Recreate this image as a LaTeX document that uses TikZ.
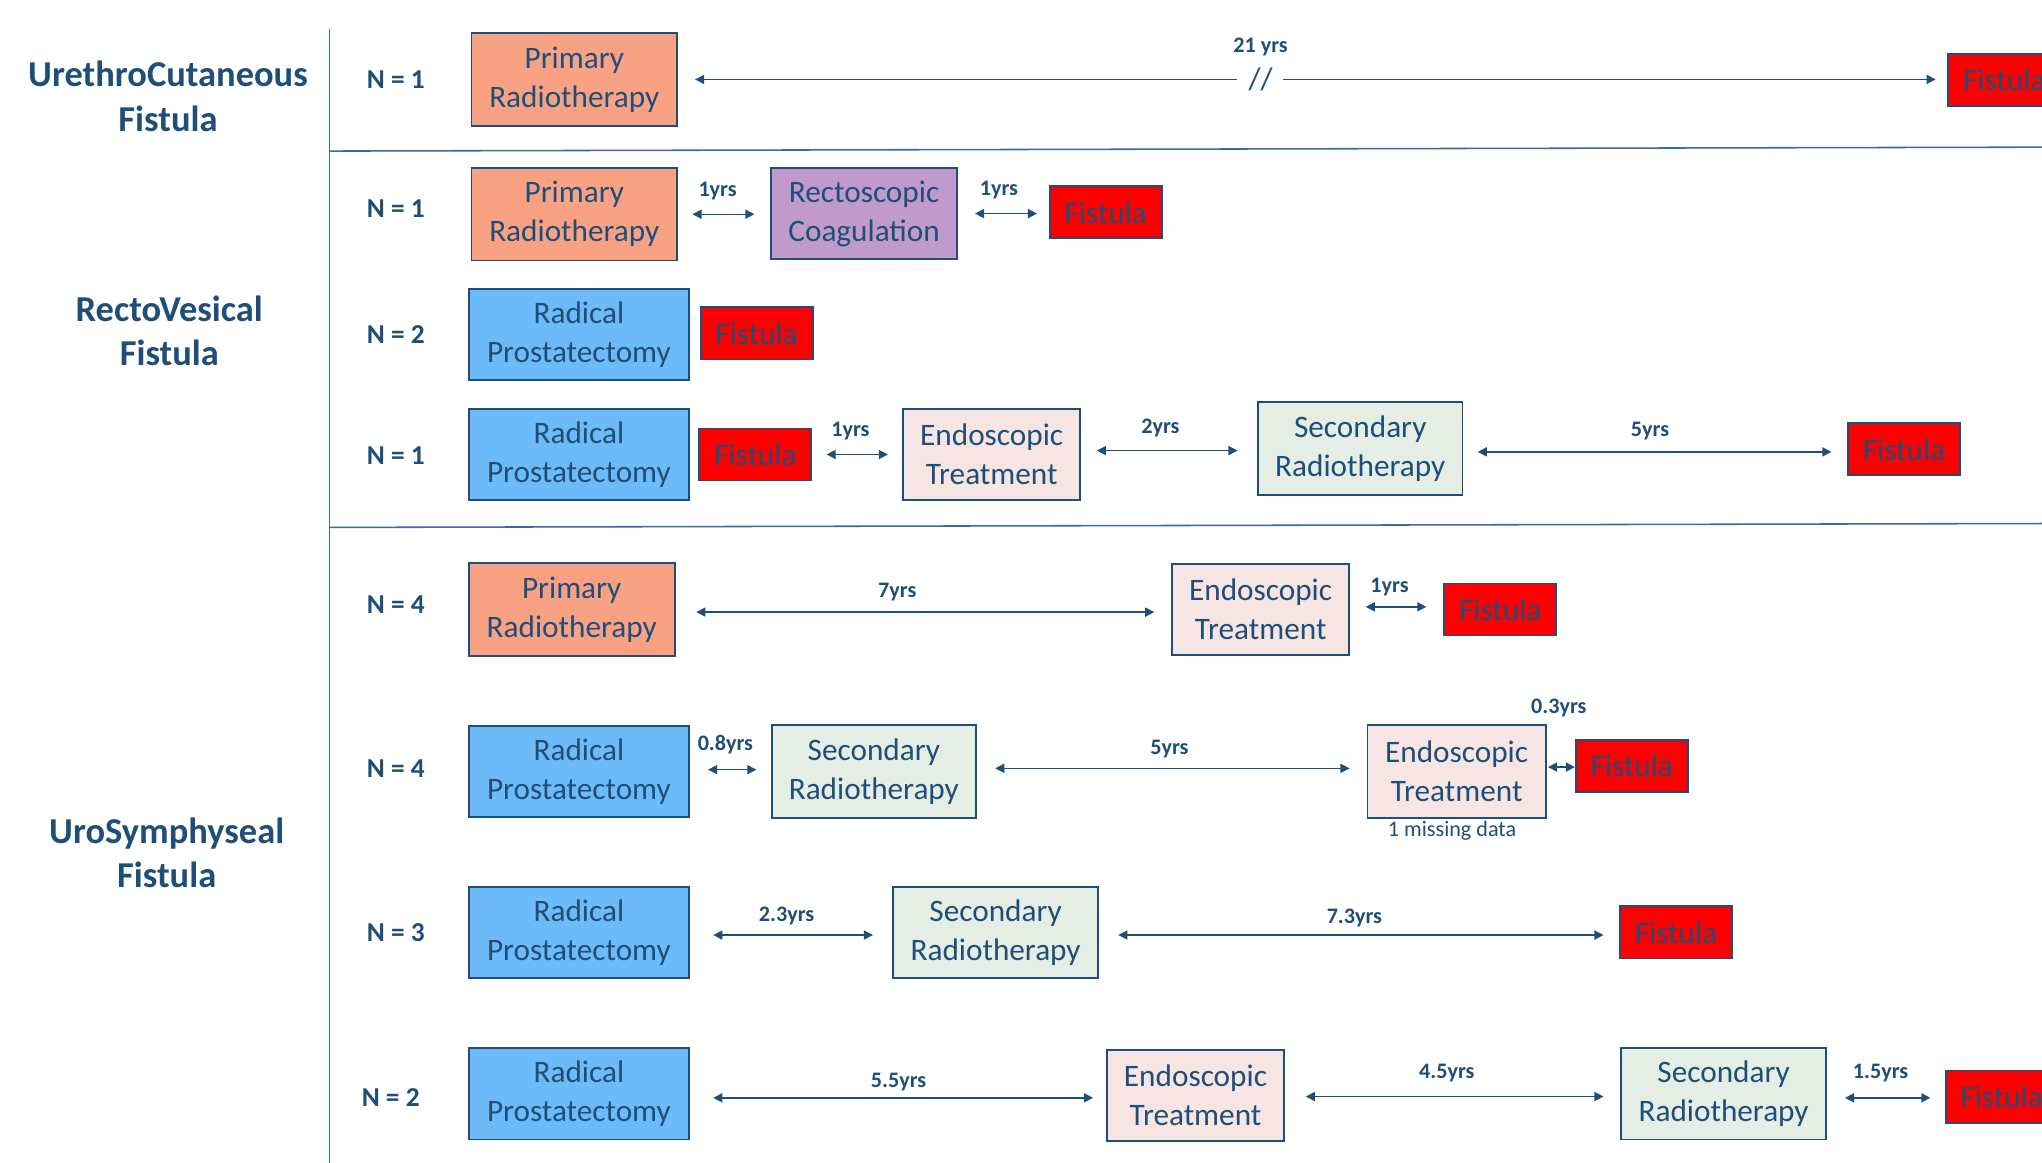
\documentclass[tikz,border=0pt]{standalone}
\usepackage{fontspec}
\setmainfont{Carlito}
\usetikzlibrary{arrows.meta}
\definecolor{txtc}{HTML}{1F4E79}
\definecolor{bordc}{HTML}{1F4E79}
\definecolor{linec}{HTML}{3A6A9E}
\definecolor{orangef}{HTML}{F8A183}
\definecolor{bluef}{HTML}{6DBAF8}
\definecolor{purplef}{HTML}{C09ACB}
\definecolor{pinkf}{HTML}{F6E5E3}
\definecolor{greenf}{HTML}{E4EEE4}
\definecolor{redf}{HTML}{FF0000}
\tikzset{
  box/.style={draw=bordc, line width=1.4pt, text=txtc, font=\fontsize{24}{30}\selectfont, align=center, inner sep=0pt},
  prim/.style={box, fill=orangef, minimum width=158pt, minimum height=71pt},
  radp/.style={box, fill=bluef, minimum width=169pt, minimum height=70pt},
  endo/.style={box, fill=pinkf, minimum width=136pt, minimum height=70pt},
  secr/.style={box, fill=greenf, minimum width=157pt, minimum height=71pt},
  rect/.style={box, fill=purplef, minimum width=143pt, minimum height=70pt},
  fist/.style={box, fill=redf, minimum width=86pt, minimum height=40pt},
  title/.style={text=txtc, font=\fontsize{28}{34}\selectfont\bfseries, align=center},
  nlab/.style={text=txtc, font=\fontsize{21}{25}\selectfont\bfseries},
  yrs/.style={text=txtc, font=\fontsize{17}{20}\selectfont\bfseries, inner sep=0pt},
  arr/.style={draw=bordc, line width=1.1pt, {Triangle[length=7pt,width=7pt]}-{Triangle[length=7pt,width=7pt]}},
  sep/.style={draw=linec, line width=1.2pt}
}
\begin{document}
\begin{tikzpicture}[x=1pt,y=-1pt]
\useasboundingbox (0,0) rectangle (1568,893);
\clip (0,0) rectangle (1568,893);
\fill[white] (0,0) rectangle (1568,893);

% separators
\coordinate (v1) at (253,22);
\coordinate (v2) at (253,893);
\draw[sep] (v1) -- (v2);
\coordinate (h1a) at (253,116);
\coordinate (h1b) at (1568,113);
\draw[sep] (h1a) -- (h1b);
\coordinate (h2a) at (253,405);
\coordinate (h2b) at (1568,402);
\draw[sep] (h2a) -- (h2b);

% titles
\node[title] (t1) at (129,74) {UrethroCutaneous\\Fistula};
\node[title] (t2) at (130,254) {RectoVesical\\Fistula};
\node[title] (t3) at (128,655) {UroSymphyseal\\Fistula};

% N labels
\node[nlab] (n1) at (304,61) {N = 1};
\node[nlab] (n2) at (304,160) {N = 1};
\node[nlab] (n3) at (304,257) {N = 2};
\node[nlab] (n4) at (304,350) {N = 1};
\node[nlab] (n5) at (304,464) {N = 4};
\node[nlab] (n6) at (304,590) {N = 4};
\node[nlab] (n7) at (304,716) {N = 3};
\node[nlab] (n8) at (300,843) {N = 2};

% Row 1
\node[prim] (r1a) at (441,61) {Primary\\Radiotherapy};
\node[fist] (r1f) at (1539,61.5) {Fistula};
\coordinate (brkL) at (950,61);
\coordinate (brkR) at (985,61);
\draw[draw=bordc, line width=1.1pt, {Triangle[length=7pt,width=7pt]}-] ([xshift=13pt]r1a.east) -- (brkL);
\draw[draw=bordc, line width=1.1pt, -{Triangle[length=7pt,width=7pt]}] (brkR) -- ([xshift=-9pt]r1f.west |- brkR);
\node[text=txtc, font=\fontsize{24}{28}\selectfont, inner sep=0pt] (brk) at (968,61) {//};
\node[yrs] (l1) at (968,36) {21 yrs};

% Row 2
\node[prim] (r2a) at (441,164.5) {Primary\\Radiotherapy};
\node[rect] (r2b) at (663.5,164) {Rectoscopic\\Coagulation};
\node[fist] (r2f) at (849,163) {Fistula};
\draw[arr] ([xshift=11pt]r2a.east) -- ([xshift=-12pt]r2a.east -| r2b.west);
\draw[arr] ([xshift=13pt]r2b.east) -- ([xshift=-9pt]r2b.east -| r2f.west);
\node[yrs] (l2a) at (551,147) {1yrs};
\node[yrs] (l2b) at (767,146) {1yrs};

% Row 3
\node[radp] (r3a) at (444.5,257) {Radical\\Prostatectomy};
\node[fist] (r3f) at (581,256) {Fistula};

% Row 4
\node[radp] (r4a) at (444.5,349) {Radical\\Prostatectomy};
\node[fist] (r4f) at (580,349) {Fistula};
\node[endo] (r4b) at (761.5,349) {Endoscopic\\Treatment};
\node[secr] (r4c) at (1044.5,344.5) {Secondary\\Radiotherapy};
\node[fist] (r4g) at (1462,345) {Fistula};
\draw[arr] ([xshift=11pt]r4f.east) -- ([xshift=-11pt]r4f.east -| r4b.west);
\draw[arr] ([xshift=12pt,yshift=3pt]r4b.east) -- ([xshift=-15pt,yshift=3pt]r4b.east -| r4c.west);
\draw[arr] ([xshift=11pt,yshift=-2.5pt]r4c.east) -- ([xshift=-12pt,yshift=-2.5pt]r4c.east -| r4g.west);
\node[yrs] (l4a) at (653,331) {1yrs};
\node[yrs] (l4b) at (891,329) {2yrs};
\node[yrs] (l4c) at (1267,331) {5yrs};

% Row 5
\node[prim] (r5a) at (439,468) {Primary\\Radiotherapy};
\node[endo] (r5b) at (968,468) {Endoscopic\\Treatment};
\node[fist] (r5f) at (1152,468) {Fistula};
\draw[arr] ([xshift=16pt,yshift=-2pt]r5a.east) -- ([xshift=-13pt,yshift=-2pt]r5a.east -| r5b.west);
\draw[arr] ([xshift=12pt,yshift=2pt]r5b.east) -- ([xshift=-13pt,yshift=2pt]r5b.east -| r5f.west);
\node[yrs] (l5a) at (689,455) {7yrs};
\node[yrs] (l5b) at (1067,451) {1yrs};

% Row 6
\node[radp] (r6a) at (444.5,592.5) {Radical\\Prostatectomy};
\node[secr] (r6b) at (671,592.5) {Secondary\\Radiotherapy};
\node[endo, minimum width=137pt, minimum height=71pt] (r6c) at (1118.5,592.5) {Endoscopic\\Treatment};
\node[fist] (r6f) at (1253,588) {Fistula};
\draw[arr] ([xshift=14pt,yshift=1.5pt]r6a.east) -- ([xshift=-11pt,yshift=1.5pt]r6a.east -| r6b.west);
\draw[arr] ([xshift=14pt,yshift=2.5pt]r6b.east) -- ([xshift=-13pt,yshift=2.5pt]r6b.east -| r6c.west);
\draw[arr] ([xshift=1pt,yshift=3.5pt]r6c.east) -- ([yshift=3.5pt]r6c.east -| r6f.west);
\node[yrs] (l6a) at (557,572) {0.8yrs};
\node[yrs] (l6b) at (898,575) {5yrs};
\node[yrs] (l6c) at (1197,544) {0.3yrs};
\node[text=txtc, font=\fontsize{17}{20}\selectfont, inner sep=0pt] (miss) at (1115,638) {1 missing data};

% Row 7
\node[radp] (r7a) at (444.5,716) {Radical\\Prostatectomy};
\node[secr, minimum height=70pt] (r7b) at (764.5,716) {Secondary\\Radiotherapy};
\node[fist] (r7f) at (1287,716) {Fistula};
\draw[arr] ([xshift=18pt,yshift=-2pt]r7a.east) -- ([xshift=-15pt,yshift=-2pt]r7a.east -| r7b.west);
\draw[arr] ([xshift=15pt,yshift=-2pt]r7b.east) -- ([xshift=-12pt,yshift=-2pt]r7b.east -| r7f.west);
\node[yrs] (l7a) at (604,703) {2.3yrs};
\node[yrs] (l7b) at (1040,705) {7.3yrs};

% Row 8
\node[radp] (r8a) at (444.5,840) {Radical\\Prostatectomy};
\node[endo] (r8b) at (918,841) {Endoscopic\\Treatment};
\node[secr, minimum height=70pt] (r8c) at (1323.5,840) {Secondary\\Radiotherapy};
\node[fist] (r8f) at (1537,842) {Fistula};
\draw[arr] ([xshift=18pt,yshift=-3pt]r8a.east) -- ([xshift=-10pt,yshift=-3pt]r8a.east -| r8b.west);
\draw[arr] ([xshift=16pt,yshift=-1pt]r8b.east) -- ([xshift=-13pt,yshift=-1pt]r8b.east -| r8c.west);
\draw[arr] ([xshift=14pt,yshift=-3pt]r8c.east) -- ([xshift=-11pt,yshift=-3pt]r8c.east -| r8f.west);
\node[yrs] (l8a) at (690,831) {5.5yrs};
\node[yrs] (l8b) at (1111,824) {4.5yrs};
\node[yrs] (l8c) at (1444,824) {1.5yrs};
\end{tikzpicture}
\end{document}
